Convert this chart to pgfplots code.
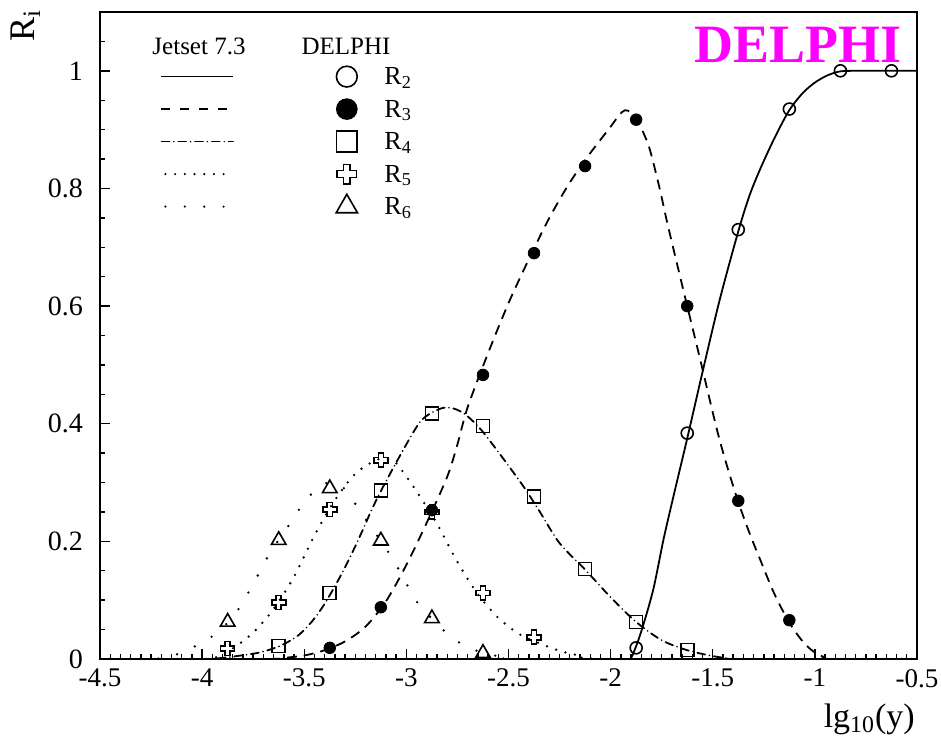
\documentclass[border=0pt]{standalone}
\usepackage{fontspec}
\setmainfont{Liberation Serif}
\usepackage{pgfplots}
\usepackage{pgfplotstable}
\pgfplotsset{compat=1.18}
\definecolor{delphimag}{RGB}{255,0,255}

\pgfdeclareplotmark{ocross}{%
  \pgfpathmoveto{\pgfqpoint{-0.36\pgfplotmarksize}{\pgfplotmarksize}}%
  \pgfpathlineto{\pgfqpoint{0.36\pgfplotmarksize}{\pgfplotmarksize}}%
  \pgfpathlineto{\pgfqpoint{0.36\pgfplotmarksize}{0.36\pgfplotmarksize}}%
  \pgfpathlineto{\pgfqpoint{\pgfplotmarksize}{0.36\pgfplotmarksize}}%
  \pgfpathlineto{\pgfqpoint{\pgfplotmarksize}{-0.36\pgfplotmarksize}}%
  \pgfpathlineto{\pgfqpoint{0.36\pgfplotmarksize}{-0.36\pgfplotmarksize}}%
  \pgfpathlineto{\pgfqpoint{0.36\pgfplotmarksize}{-\pgfplotmarksize}}%
  \pgfpathlineto{\pgfqpoint{-0.36\pgfplotmarksize}{-\pgfplotmarksize}}%
  \pgfpathlineto{\pgfqpoint{-0.36\pgfplotmarksize}{-0.36\pgfplotmarksize}}%
  \pgfpathlineto{\pgfqpoint{-\pgfplotmarksize}{-0.36\pgfplotmarksize}}%
  \pgfpathlineto{\pgfqpoint{-\pgfplotmarksize}{0.36\pgfplotmarksize}}%
  \pgfpathlineto{\pgfqpoint{-0.36\pgfplotmarksize}{0.36\pgfplotmarksize}}%
  \pgfpathclose
  \pgfusepathqstroke
}

% DELPHI data points
\pgfplotstableread{
x y
-1.875 0.019
-1.625 0.384
-1.375 0.730
-1.125 0.935
-0.875 1.000
-0.625 1.000
}\dRtwo
\pgfplotstableread{
x y
-3.375 0.019
-3.125 0.088
-2.875 0.253
-2.625 0.483
-2.375 0.690
-2.125 0.838
-1.875 0.917
-1.625 0.600
-1.375 0.269
-1.125 0.066
}\dRthree
\pgfplotstableread{
x y
-3.625 0.022
-3.375 0.112
-3.125 0.286
-2.875 0.417
-2.625 0.396
-2.375 0.276
-2.125 0.153
-1.875 0.063
-1.625 0.015
}\dRfour
\pgfplotstableread{
x y
-3.875 0.018
-3.625 0.096
-3.375 0.254
-3.125 0.338
-2.875 0.250
-2.625 0.112
-2.375 0.037
}\dRfive
\pgfplotstableread{
x y
-3.875 0.063
-3.625 0.202
-3.375 0.290
-3.125 0.201
-2.875 0.069
-2.625 0.010
}\dRsix

% Jetset 7.3 curves
\pgfplotstableread{
x y
-4.5 0
-1.95 0
-1.905 0
-1.875 0.022
-1.84 0.058
-1.79 0.12
-1.74 0.205
-1.69 0.28
-1.625 0.375
-1.546 0.494
-1.465 0.612
-1.375 0.727
-1.32 0.788
-1.269 0.832
-1.2 0.884
-1.127 0.932
-1.06 0.962
-1.0 0.98
-0.94 0.992
-0.877 0.999
-0.8 1.0
-0.5 1.0
}\cRtwo
\pgfplotstableread{
x y
-4.5 0
-3.7 0
-3.6 0.002
-3.5 0.006
-3.4 0.015
-3.3 0.03
-3.2 0.055
-3.1 0.098
-3.0 0.16
-2.9 0.232
-2.8 0.31
-2.75 0.365
-2.7 0.428
-2.6 0.52
-2.5 0.605
-2.4 0.68
-2.3 0.75
-2.2 0.81
-2.1 0.86
-2.0 0.905
-1.96 0.924
-1.93 0.933
-1.9 0.929
-1.873 0.915
-1.84 0.895
-1.807 0.865
-1.76 0.8
-1.725 0.745
-1.675 0.672
-1.625 0.6
-1.562 0.51
-1.481 0.392
-1.43 0.328
-1.375 0.267
-1.32 0.214
-1.269 0.170
-1.2 0.112
-1.127 0.063
-1.06 0.03
-1.008 0.013
-0.96 0.004
-0.926 0
-0.5 0
}\cRthree
\pgfplotstableread{
x y
-4.5 0
-4.0 0
-3.9 0.002
-3.83 0.005
-3.72 0.011
-3.62 0.022
-3.53 0.04
-3.457 0.066
-3.4 0.094
-3.34 0.13
-3.29 0.163
-3.243 0.197
-3.2 0.23
-3.163 0.259
-3.1 0.302
-3.0 0.365
-2.933 0.403
-2.88 0.418
-2.82 0.427
-2.77 0.426
-2.72 0.418
-2.67 0.403
-2.625 0.386
-2.55 0.352
-2.484 0.321
-2.42 0.29
-2.346 0.25
-2.25 0.197
-2.125 0.152
-2.0 0.105
-1.875 0.063
-1.75 0.032
-1.625 0.015
-1.5 0.005
-1.42 0.001
-1.35 0
-0.5 0
}\cRfour
\pgfplotstableread{
x y
-4.5 0
-4.0 0
-3.93 0.003
-3.85 0.018
-3.75 0.045
-3.65 0.085
-3.55 0.14
-3.45 0.21
-3.35 0.27
-3.25 0.315
-3.15 0.338
-3.1 0.34
-3.05 0.333
-2.95 0.285
-2.85 0.23
-2.75 0.165
-2.65 0.11
-2.55 0.07
-2.45 0.043
-2.35 0.027
-2.25 0.014
-2.15 0.006
-2.0 0
-0.5 0
}\cRfive
\pgfplotstableread{
x y
-4.5 0
-4.25 0
-4.15 0.005
-4.08 0.014
-4.0 0.028
-3.92 0.046
-3.85 0.072
-3.8 0.096
-3.757 0.124
-3.71 0.153
-3.667 0.181
-3.6 0.215
-3.56 0.235
-3.51 0.262
-3.447 0.287
-3.4 0.298
-3.35 0.30
-3.29 0.285
-3.236 0.256
-3.18 0.228
-3.07 0.172
-2.98 0.116
-2.93 0.089
-2.8 0.043
-2.72 0.024
-2.62 0.01
-2.5 0.002
-2.4 0
-0.5 0
}\cRsix

\begin{document}
\begin{tikzpicture}
\path[use as bounding box] (-50pt,-43.5pt) rectangle (420.5pt,329.5pt);
\begin{axis}[
  at={(0pt,0pt)}, anchor=south west,
  width=408.5pt, height=323.5pt, scale only axis,
  xmin=-4.5, xmax=-0.5, ymin=0, ymax=1.1,
  xtick={-4.5,-4,-3.5,-3,-2.5,-2,-1.5,-1,-0.5},
  xticklabels={-4.5,-4,-3.5,-3,-2.5,-2,-1.5,-1,-0.5},
  ytick={0,0.2,0.4,0.6,0.8,1},
  yticklabels={0,0.2,0.4,0.6,0.8,1},
  extra y ticks={1.05}, extra y tick labels={},
  extra y tick style={major tick length=2.5pt},
  minor x tick num=9, minor y tick num=3,
  tick pos=left, tick align=inside,
  major tick length=5pt, minor tick length=2.5pt,
  tick style={black, line width=0.7pt},
  axis line style={line width=1pt},
  xticklabel style={font=\fontsize{13.5}{15}\selectfont, yshift=-1.5pt},
  yticklabel style={font=\fontsize{14}{16}\selectfont, xshift=-5pt},
  xlabel={lg\textsubscript{10}(y)},
  xlabel style={at={(axis description cs:0.9976,-0.106)}, anchor=base east,
    font=\fontsize{17}{19}\selectfont, inner sep=0pt},
  ylabel={R\textsubscript{i}},
  ylabel style={at={(axis description cs:-0.0796,0.9537)}, anchor=base west,
    font=\fontsize{18}{20}\selectfont, inner sep=0pt},
  legend style={at={(axis description cs:0.0742,0.9218)}, anchor=north west,
    draw=none, fill=none, inner sep=0pt, outer sep=0pt,
    row sep=2.25pt, column sep=0pt,
    font=\fontsize{13}{15}\selectfont,
    nodes={inner sep=0pt, text height=11pt, text depth=3pt}},
  legend cell align=left,
]
% legend
\addlegendimage{legend image code/.code={
  \draw[line width=0.8pt, solid] (0pt,0pt) -- (35.9pt,0pt);
  \draw[line width=0.8pt, solid] plot[mark=o, mark size=5.2pt] coordinates {(92.7pt,0pt)};
  \path[draw=none] (0pt,0pt) -- (111.5pt,0pt);}}
\addlegendentry{R\textsubscript{2}}
\addlegendimage{legend image code/.code={
  \draw[line width=0.8pt, dash pattern=on 4.5pt off 5pt] (0pt,0pt) -- (35.9pt,0pt);
  \draw[line width=0.8pt, solid] plot[mark=*, mark size=5pt] coordinates {(92.7pt,0pt)};
  \path[draw=none] (0pt,0pt) -- (111.5pt,0pt);}}
\addlegendentry{R\textsubscript{3}}
\addlegendimage{legend image code/.code={
  \draw[line width=0.8pt, line cap=round, dash pattern=on 4pt off 2.2pt on 0pt off 2.2pt] (0pt,0pt) -- (35.9pt,0pt);
  \draw[line width=0.8pt, solid] plot[mark=square, mark size=5.2pt] coordinates {(92.7pt,0pt)};
  \path[draw=none] (0pt,0pt) -- (111.5pt,0pt);}}
\addlegendentry{R\textsubscript{4}}
\addlegendimage{legend image code/.code={
  \draw[line width=1.2pt, line cap=round, dash pattern=on 0pt off 4.85pt] (2pt,0pt) -- (35.9pt,0pt);
  \draw[line width=0.8pt, solid] plot[mark=ocross, mark size=4.8pt] coordinates {(92.7pt,0pt)};
  \path[draw=none] (0pt,0pt) -- (111.5pt,0pt);}}
\addlegendentry{R\textsubscript{5}}
\addlegendimage{legend image code/.code={
  \draw[line width=1.2pt, line cap=round, dash pattern=on 0pt off 9.7pt] (2pt,0pt) -- (35.9pt,0pt);
  \draw[line width=0.8pt, solid] plot[mark=triangle, mark size=6.15pt] coordinates {(92.7pt,0pt)};
  \path[draw=none] (0pt,0pt) -- (111.5pt,0pt);}}
\addlegendentry{R\textsubscript{6}}

% Jetset curves
\addplot[forget plot, black, line width=0.9pt, smooth] table {\cRtwo};
\addplot[forget plot, black, line width=0.9pt, smooth, dash pattern=on 5pt off 3.5pt] table {\cRthree};
\addplot[forget plot, black, line width=0.9pt, smooth, line cap=round, dash pattern=on 4pt off 2.2pt on 0pt off 2.2pt] table {\cRfour};
\addplot[forget plot, black, line width=1.3pt, smooth, line cap=round, dash pattern=on 0pt off 4.85pt] table {\cRfive};
\addplot[forget plot, black, line width=1.3pt, smooth, line cap=round, dash pattern=on 0pt off 9.7pt] table {\cRsix};

% DELPHI points
\addplot[forget plot, only marks, mark=o, mark size=3pt, mark options={black, line width=0.8pt}] table {\dRtwo};
\addplot[forget plot, only marks, mark=*, mark size=2.9pt, mark options={black, fill=black}] table {\dRthree};
\addplot[forget plot, only marks, mark=square, mark size=3.25pt, mark options={black, line width=0.8pt}] table {\dRfour};
\addplot[forget plot, only marks, mark=ocross, mark size=3.5pt, mark options={black, line width=0.8pt}] table {\dRfive};
\addplot[forget plot, only marks, mark=triangle, mark size=4.2pt, mark options={black, line width=0.8pt}] table {\dRsix};

% texts
\node[anchor=base, font=\fontsize{12.5}{14}\selectfont] at (axis description cs:0.1212,0.9346) {Jetset 7.3};
\node[anchor=base, font=\fontsize{12.5}{14}\selectfont] at (axis description cs:0.3011,0.9346) {DELPHI};
\node[anchor=base, font=\fontsize{27}{30}\selectfont\bfseries, text=delphimag] at (axis description cs:0.8543,0.9223) {DELPHI};
\end{axis}
\end{tikzpicture}
\end{document}
